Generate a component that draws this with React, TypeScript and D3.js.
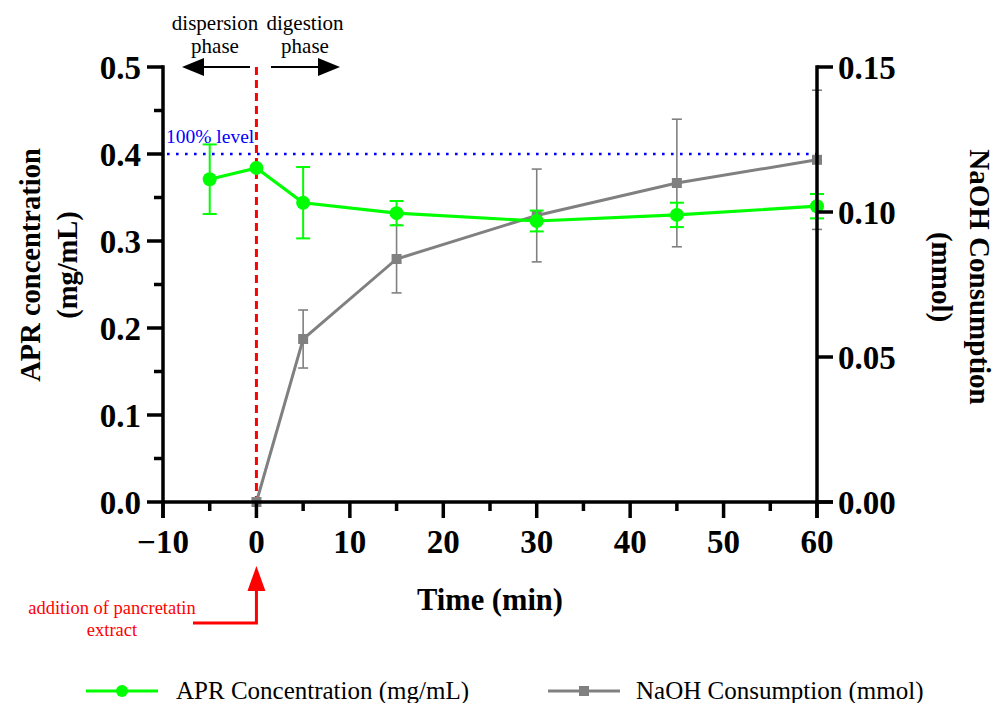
import React from "react";
import * as d3 from "d3";

const aprTime = [-5, 0, 5, 15, 30, 45, 60];
const aprValues = [0.371, 0.384, 0.344, 0.332, 0.323, 0.330, 0.340];
const aprErrors = [0.040, 0, 0.041, 0.014, 0.012, 0.014, 0.014];

const naohTime = [0, 5, 15, 30, 45, 60];
const naohValues = [0, 0.0562, 0.0838, 0.0988, 0.110, 0.118];
const naohErrors = [0, 0.0100, 0.0117, 0.016, 0.022, 0.024];

const xMajorTicks = [-10, 0, 10, 20, 30, 40, 50, 60];
const xMinorTicks = [-5, 5, 15, 25, 35, 45, 55];
const yLeftMajor = [0, 0.1, 0.2, 0.3, 0.4, 0.5];
const yLeftMinor = [0.05, 0.15, 0.25, 0.35, 0.45];
const yRightTicks = [0, 0.05, 0.1, 0.15];

const FONT = "'Liberation Serif', 'Times New Roman', serif";
const GREEN = "#00ff00";
const GRAY = "#808080";

export default function App() {
  const x = d3.scaleLinear().domain([-10, 60]).range([163, 817]);
  const yL = d3.scaleLinear().domain([0, 0.5]).range([502, 67]);
  const yR = d3.scaleLinear().domain([0, 0.15]).range([502, 67]);

  const aprPts = aprTime.map((t, i) => ({ t, v: aprValues[i], e: aprErrors[i] }));
  const naohPts = naohTime.map((t, i) => ({ t, v: naohValues[i], e: naohErrors[i] }));

  const aprLine = d3.line<any>().x((d) => x(d.t)).y((d) => yL(d.v));
  const naohLine = d3.line<any>().x((d) => x(d.t)).y((d) => yR(d.v));

  const fmtL = d3.format(".1f");
  const fmtR = d3.format(".2f");
  const fmtX = (v: number) => (v < 0 ? "\u2212" + Math.abs(v) : String(v));

  const axisW = 3.5;
  const x0 = x(0);

  return (
    <svg width={999} height={703} style={{ position: "absolute", left: 0, top: 0 }} fontFamily={FONT}>
      <rect width={999} height={703} fill="#fff" />

      {/* 100% level dotted line */}
      <line x1={x(-10) + 4} x2={x(60)} y1={yL(0.4)} y2={yL(0.4)} stroke="#0000ff" strokeWidth={2.6}
        strokeDasharray="2.6 6.4" />
      <text x={166} y={143} fill="#0000ff" fontSize={19.5}>100% level</text>

      {/* red dashed vertical */}
      <line x1={x0} x2={x0} y1={yL(0.5)} y2={yL(0)} stroke="#ff0000" strokeWidth={3} strokeDasharray="8 5" />

      {/* NaOH series */}
      <g>
        {naohPts.map((d, i) => d.e > 0 && (
          <g key={i} stroke={GRAY} strokeWidth={1.6}>
            <line x1={x(d.t)} x2={x(d.t)} y1={yR(d.v - d.e)} y2={yR(d.v + d.e)} />
            <line x1={x(d.t) - 5} x2={x(d.t) + 5} y1={yR(d.v - d.e)} y2={yR(d.v - d.e)} />
            <line x1={x(d.t) - 5} x2={x(d.t) + 5} y1={yR(d.v + d.e)} y2={yR(d.v + d.e)} />
          </g>
        ))}
        <path d={naohLine(naohPts) || ""} fill="none" stroke={GRAY} strokeWidth={3} />
        {naohPts.map((d, i) => (
          <rect key={i} x={x(d.t) - 5} y={yR(d.v) - 5} width={10} height={10} fill={GRAY} />
        ))}
      </g>

      {/* APR series */}
      <g>
        {aprPts.map((d, i) => d.e > 0 && (
          <g key={i} stroke={GREEN} strokeWidth={2}>
            <line x1={x(d.t)} x2={x(d.t)} y1={yL(d.v - d.e)} y2={yL(d.v + d.e)} />
            <line x1={x(d.t) - 7} x2={x(d.t) + 7} y1={yL(d.v - d.e)} y2={yL(d.v - d.e)} />
            <line x1={x(d.t) - 7} x2={x(d.t) + 7} y1={yL(d.v + d.e)} y2={yL(d.v + d.e)} />
          </g>
        ))}
        <path d={aprLine(aprPts) || ""} fill="none" stroke={GREEN} strokeWidth={3.2} />
        {aprPts.map((d, i) => (
          <circle key={i} cx={x(d.t)} cy={yL(d.v)} r={7} fill={GREEN} />
        ))}
      </g>

      {/* Axes */}
      <g stroke="#000" strokeWidth={axisW} fill="none">
        <line x1={x(-10)} x2={x(-10)} y1={yL(0.5) - axisW / 2} y2={yL(0) + 16} />
        <line x1={x(-10)} x2={x(60) + 16} y1={yL(0)} y2={yL(0)} />
        <line x1={x(60)} x2={x(60)} y1={yR(0.15) - axisW / 2} y2={yR(0) + 16} />
        {yLeftMajor.map((v) => (
          <line key={"lm" + v} x1={x(-10) - 16} x2={x(-10)} y1={yL(v)} y2={yL(v)} />
        ))}
        {yLeftMinor.map((v) => (
          <line key={"ln" + v} x1={x(-10) - 9} x2={x(-10)} y1={yL(v)} y2={yL(v)} />
        ))}
        {xMajorTicks.map((v) => (
          <line key={"xm" + v} x1={x(v)} x2={x(v)} y1={yL(0)} y2={yL(0) + 16} />
        ))}
        {xMinorTicks.map((v) => (
          <line key={"xn" + v} x1={x(v)} x2={x(v)} y1={yL(0)} y2={yL(0) + 9} />
        ))}
        {yRightTicks.map((v) => (
          <line key={"r" + v} x1={x(60)} x2={x(60) + 16} y1={yR(v)} y2={yR(v)} />
        ))}
      </g>

      {/* Tick labels */}
      <g fontSize={33} fontWeight="bold" fill="#000">
        {yLeftMajor.map((v) => (
          <text key={"tl" + v} x={141} y={yL(v)} dy="0.35em" textAnchor="end">{fmtL(v)}</text>
        ))}
        {yRightTicks.map((v) => (
          <text key={"tr" + v} x={838} y={yR(v)} dy="0.35em" textAnchor="start">{fmtR(v)}</text>
        ))}
        {xMajorTicks.map((v) => (
          <text key={"tx" + v} x={x(v)} y={553} textAnchor="middle">{fmtX(v)}</text>
        ))}
      </g>

      {/* Axis titles */}
      <g fontWeight="bold" fill="#000" textAnchor="middle">
        <text x={490} y={610} fontSize={30.5}>Time (min)</text>
        <g transform="translate(40,265) rotate(-90)" fontSize={28.5}>
          <text x={0} y={0}>APR concentration</text>
          <text x={0} y={37}>(mg/mL)</text>
        </g>
        <g transform="translate(970,277) rotate(90)" fontSize={29}>
          <text x={0} y={0}>NaOH Consumption</text>
          <text x={0} y={38}>(mmol)</text>
        </g>
      </g>

      {/* phase annotations */}
      <g fontSize={21} fill="#000" textAnchor="middle">
        <text x={215} y={30}>dispersion</text>
        <text x={215} y={53}>phase</text>
        <text x={305} y={30}>digestion</text>
        <text x={305} y={53}>phase</text>
      </g>
      <g>
        <line x1={250} x2={200} y1={67} y2={67} stroke="#000" strokeWidth={2} />
        <path d="M182,67 L204,58 L204,76 Z" fill="#000" />
        <line x1={271} x2={320} y1={67} y2={67} stroke="#000" strokeWidth={2} />
        <path d="M340,67 L318,58 L318,76 Z" fill="#000" />
      </g>

      {/* pancreatin arrow */}
      <g>
        <path d={`M193,623 L${x0},623 L${x0},588`} fill="none" stroke="#ff0000" strokeWidth={3} />
        <path d={`M${x0},566 L${x0 - 9},591 L${x0 + 9},591 Z`} fill="#ff0000" />
        <g fontSize={18.5} fill="#ff0000" textAnchor="middle">
          <text x={112} y={614}>addition of pancretatin</text>
          <text x={112} y={636}>extract</text>
        </g>
      </g>

      {/* Legend */}
      <g>
        <line x1={86} x2={158} y1={691} y2={691} stroke={GREEN} strokeWidth={3} />
        <circle cx={122} cy={691} r={6} fill={GREEN} />
        <text x={176} y={699} fontSize={25} fill="#000">APR Concentration (mg/mL)</text>
        <line x1={548} x2={620} y1={691} y2={691} stroke={GRAY} strokeWidth={3} />
        <rect x={579} y={686} width={10} height={10} fill={GRAY} />
        <text x={636} y={699} fontSize={25} fill="#000">NaOH Consumption (mmol)</text>
      </g>
    </svg>
  );
}
